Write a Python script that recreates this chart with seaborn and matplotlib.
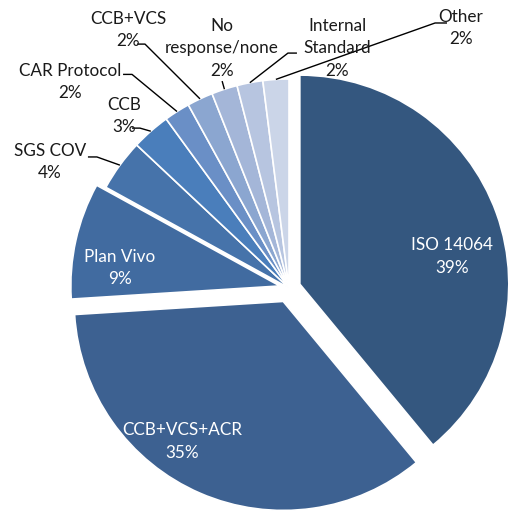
import numpy as np
import matplotlib.pyplot as plt
import seaborn as sns

# slice data, clockwise from 12 o'clock
labels = ['ISO 14064', 'CCB+VCS+ACR', 'Plan Vivo', 'SGS COV', 'CCB', 'CAR Protocol',
          'CCB+VCS', 'No\nresponse/none', 'Internal\nStandard', 'Other']
shares = [39, 35, 9, 4, 3, 2, 2, 2, 2, 2]
explode = [0.055, 0.07, 0.045, 0, 0, 0, 0, 0, 0, 0]
colors = ['#34577F', '#3D6191', '#416BA0', '#4673AA', '#4A7EBB', '#6A8FC6',
          '#8BA6D0', '#A4B6D8', '#B7C5E0', '#CBD5E8']

# label text positions (data units, pie radius = 1)
inside_pos = {0: (0.78, 0.15), 1: (-0.51, -0.735), 2: (-0.81, 0.095)}
outside_pos = {3: (-1.144, 0.603), 4: (-0.789, 0.823), 5: (-1.048, 0.986),
               6: (-0.770, 1.234), 7: (-0.321, 1.148), 8: (0.230, 1.148),
               9: (0.823, 1.244)}
# elbow of the leader lines (start, corner)
elbows = {3: [(-0.962, 0.627), (-0.919, 0.627)],
          4: [(-0.751, 0.765), (-0.713, 0.765)],
          5: [(-0.794, 1.022), (-0.751, 1.022)],
          6: [(-0.727, 1.167), (-0.689, 1.167)],
          7: [(-0.320, 0.990), (-0.320, 0.990)],
          8: [(0.038, 1.124), (-0.005, 1.124)],
          9: [(0.756, 1.268), (0.699, 1.268)]}

sns.set_theme(style='white')
plt.rcParams['font.family'] = ['Lato', 'DejaVu Sans']

fig = plt.figure(figsize=(5.11, 5.17), dpi=100)
ax = fig.add_axes([0, 0, 1, 1])

wedges, _ = ax.pie(shares, explode=explode, colors=colors, startangle=90,
                   counterclock=False, radius=1.0,
                   wedgeprops=dict(edgecolor='white', linewidth=1.2))

fs = 12.3
for i, (x, y) in inside_pos.items():
    ax.text(x, y, f'{labels[i]}\n{shares[i]}%', ha='center', va='center',
            color='white', fontsize=fs, linespacing=1.5)

for i, (x, y) in outside_pos.items():
    ax.text(x, y, f'{labels[i]}\n{shares[i]}%', ha='center', va='center',
            color='#1a1a1a', fontsize=fs, linespacing=1.5)
    w = wedges[i]
    ang = np.deg2rad((w.theta1 + w.theta2) / 2)
    ax_, ay_ = np.cos(ang) * 1.0, np.sin(ang) * 1.0
    pts = elbows[i] + [(ax_, ay_)]
    xs, ys = zip(*pts)
    ax.plot(xs, ys, color='black', lw=1.0, solid_capstyle='butt')

ax.set_xlim(-289 / 209, (511 - 289) / 209)
ax.set_ylim((288 - 517) / 209, 288 / 209)
ax.set_aspect('equal')
ax.axis('off')

fig.savefig('out.png', dpi=100)
plt.close(fig)
